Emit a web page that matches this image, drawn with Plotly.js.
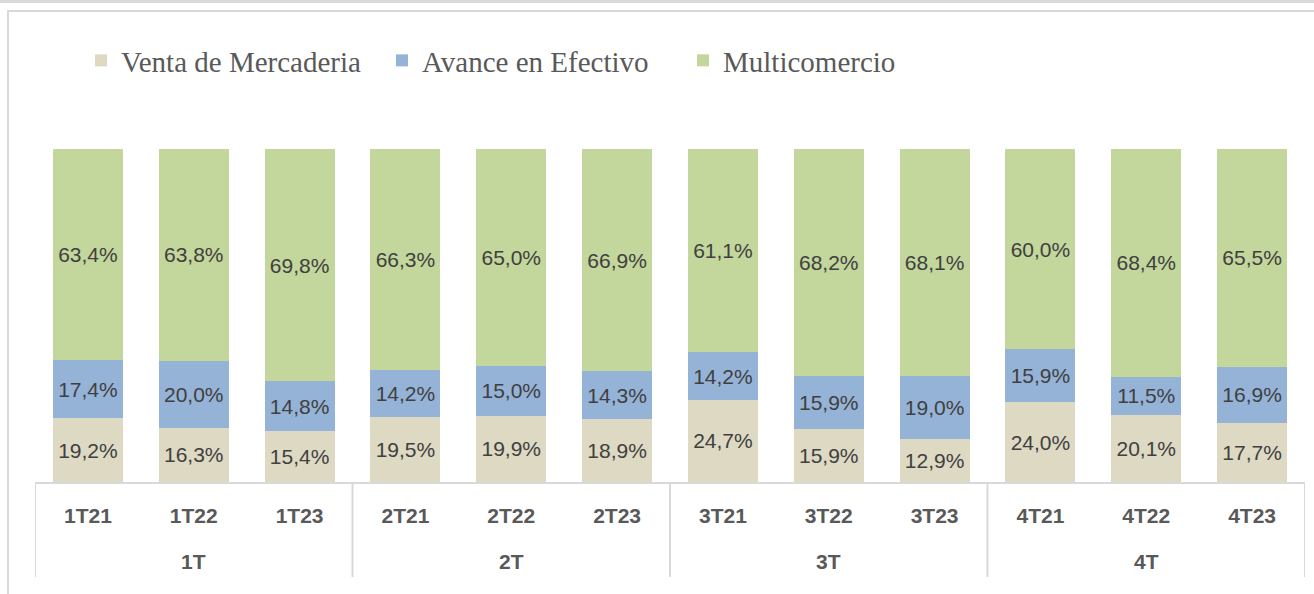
<!DOCTYPE html>
<html>
<head>
<meta charset="utf-8">
<script src="https://cdn.plot.ly/plotly-3.0.1.min.js"></script>
<style>html,body{margin:0;padding:0;background:#fff;}#chart{width:1314px;height:594px;}</style>
</head>
<body>
<div id="chart"></div>
<script>
const quarterGroups = ['1T','1T','1T','2T','2T','2T','3T','3T','3T','4T','4T','4T'];
const periods = ['1T21','1T22','1T23','2T21','2T22','2T23','3T21','3T22','3T23','4T21','4T22','4T23'];
const ventaMercaderia = [19.2,16.3,15.4,19.5,19.9,18.9,24.7,15.9,12.9,24.0,20.1,17.7];
const avanceEfectivo  = [17.4,20.0,14.8,14.2,15.0,14.3,14.2,15.9,19.0,15.9,11.5,16.9];
const multicomercio   = [63.4,63.8,69.8,66.3,65.0,66.9,61.1,68.2,68.1,60.0,68.4,65.5];
const seriesNames = ['Venta de Mercaderia','Avance en Efectivo','Multicomercio'];
const seriesColors = ['#ddd9c3','#95b3d7','#c3d69b'];

const sansFont = 'Liberation Sans, Arial, sans-serif';
const seriesValues = [ventaMercaderia, avanceEfectivo, multicomercio];
const traces = seriesValues.map((vals, i) => ({
  type: 'bar',
  name: seriesNames[i],
  x: periods,
  y: vals,
  marker: {color: seriesColors[i], line: {width: 0}},
  texttemplate: '%{y:.1f}%',
  textposition: 'inside',
  insidetextanchor: 'middle',
  textangle: 0,
  textfont: {family: sansFont, size: 21, color: '#404040'},
  hoverinfo: 'skip'
}));

const L = 35, R = 1305, T = 149, B = 482;
const px = v => (v - L) / (R - L);
const py = v => (B - v) / (B - T);

// group spans derived from the quarterGroups array
const groups = [];
quarterGroups.forEach((g, i) => {
  const last = groups[groups.length - 1];
  if (last && last.name === g) last.end = i;
  else groups.push({name: g, start: i, end: i});
});

const shapes = [
  {type: 'rect', xref: 'paper', yref: 'paper', x0: px(8), x1: px(1325), y0: py(610), y1: py(11),
   line: {color: '#d9d9d9', width: 2}, fillcolor: 'rgba(0,0,0,0)', layer: 'below'},
  {type: 'line', xref: 'paper', yref: 'paper', x0: px(-5), x1: px(1320), y0: py(1.5), y1: py(1.5),
   line: {color: '#d9d9d9', width: 3}}
];
const dividerXs = [groups[0].start - 0.5].concat(groups.map(g => g.end + 0.5));
dividerXs.forEach(xv => shapes.push({
  type: 'line', xref: 'x', yref: 'paper', x0: xv, x1: xv, y0: py(482), y1: py(577),
  line: {color: '#d9d9d9', width: 2}
}));

const annotations = groups.map(g => ({
  xref: 'x', yref: 'paper', x: (g.start + g.end) / 2, y: py(561),
  xanchor: 'center', yanchor: 'middle', showarrow: false,
  text: g.name,
  font: {family: sansFont, size: 21, color: '#595959', weight: 'bold'}
}));

const layout = {
  width: 1314, height: 594,
  margin: {l: L, r: 1314 - R, t: T, b: 594 - B, pad: 0},
  paper_bgcolor: '#ffffff',
  plot_bgcolor: '#ffffff',
  separators: ',.',
  barmode: 'stack',
  bargap: 0.34,
  showlegend: true,
  legend: {
    orientation: 'h',
    x: px(81), xanchor: 'left',
    y: py(35), yanchor: 'top',
    font: {family: 'Liberation Serif, Times New Roman, serif', size: 29, color: '#595959'},
    traceorder: 'normal',
    entrywidth: 256,
    bgcolor: 'rgba(0,0,0,0)'
  },
  xaxis: {
    type: 'category',
    range: [-0.5, periods.length - 0.5],
    showline: true, linecolor: '#d9d9d9', linewidth: 2,
    showgrid: false, zeroline: false,
    ticks: '',
    ticklabelstandoff: 14,
    tickfont: {family: sansFont, size: 21, color: '#595959', weight: 'bold'}
  },
  yaxis: {
    range: [0, 100], visible: false, showgrid: false, zeroline: false, fixedrange: true
  },
  shapes: shapes,
  annotations: annotations
};

Plotly.newPlot('chart', traces, layout, {displayModeBar: false, staticPlot: true});
</script>
</body>
</html>
